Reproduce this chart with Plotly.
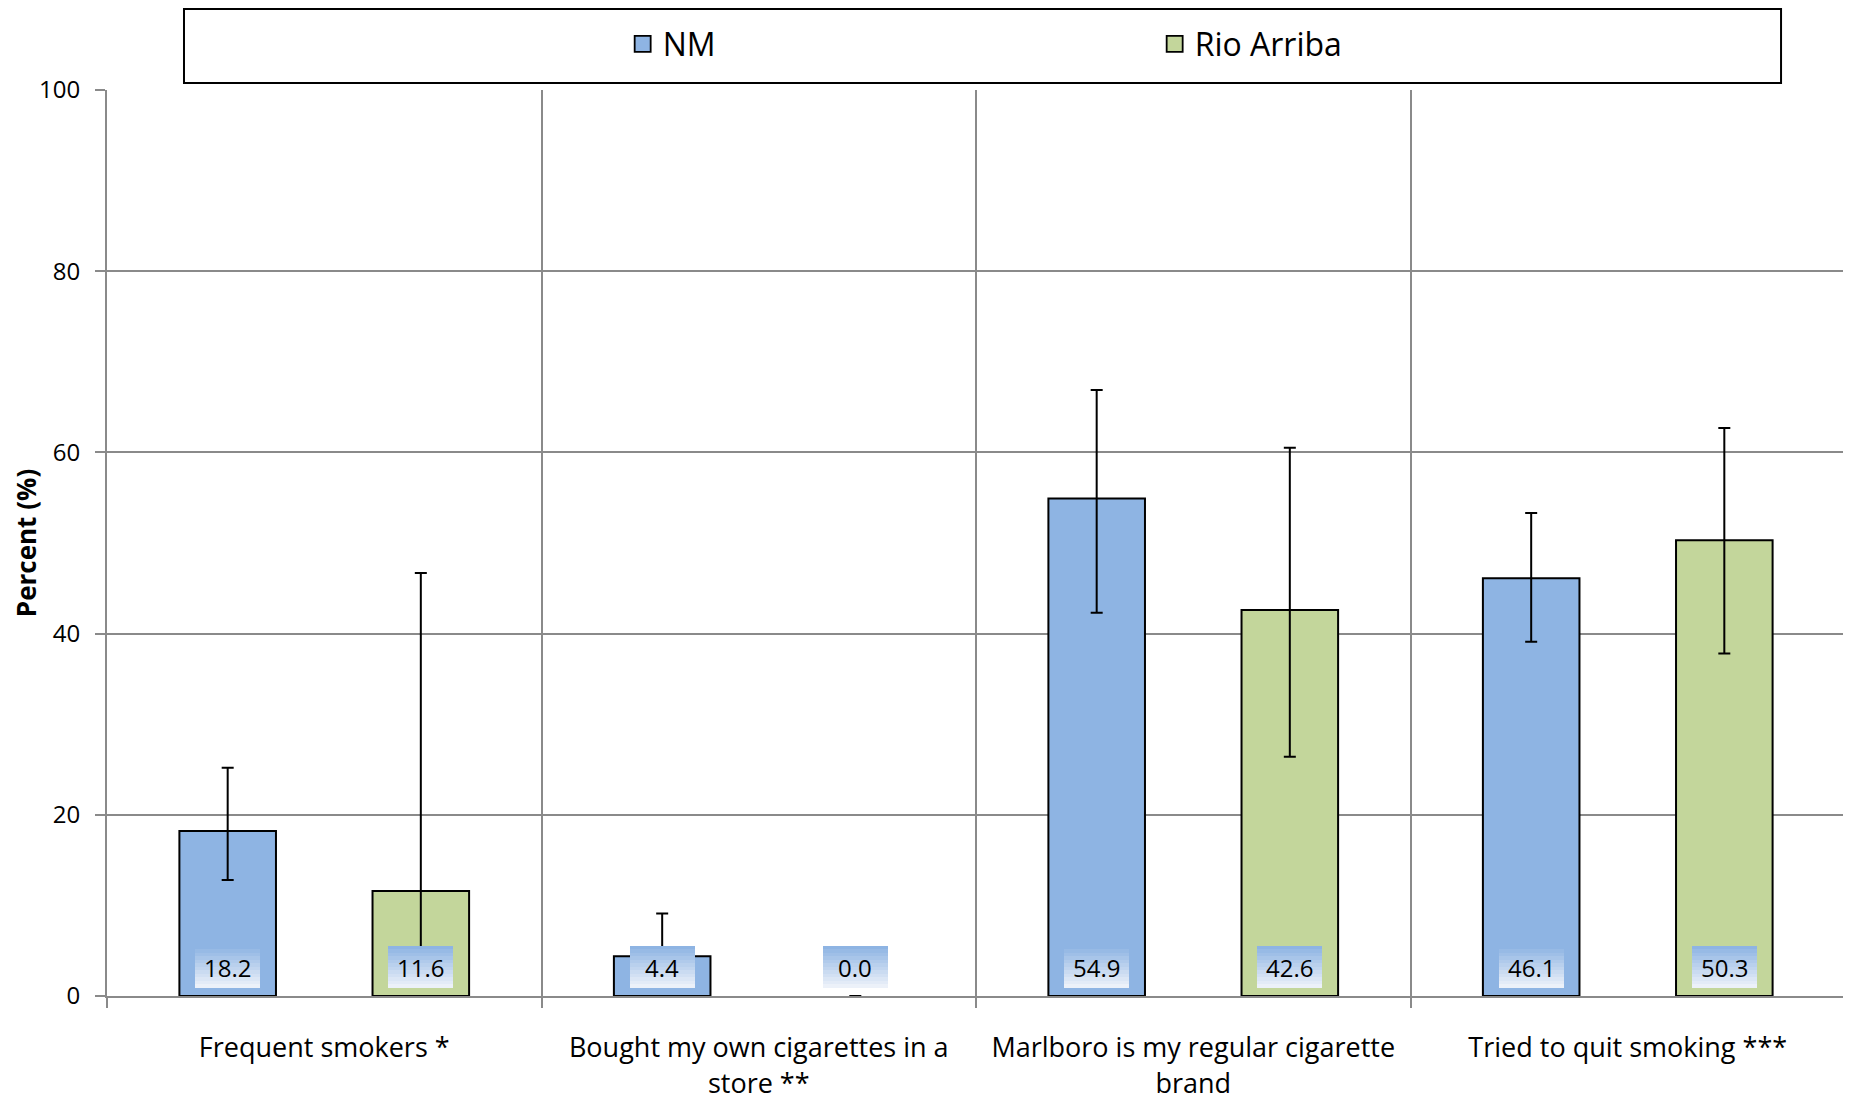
import plotly.graph_objects as go

categories = ["Frequent smokers *", "Bought my own cigarettes in a<br>store **",
              "Marlboro is my regular cigarette<br>brand", "Tried to quit smoking ***"]
series_names = ["NM", "Rio Arriba"]
nm_values = [18.2, 4.4, 54.9, 46.1]
nm_upper = [25.2, 9.1, 66.9, 53.3]
nm_lower = [12.8, 2.0, 42.3, 39.1]
ra_values = [11.6, 0.0, 42.6, 50.3]
ra_upper = [46.7, 0.0, 60.5, 62.7]
ra_lower = [2.8, 0.0, 26.4, 37.8]
y_ticks = [0, 20, 40, 60, 80, 100]

colors = ["#8EB4E3", "#C3D69B"]
FONT = "Open Sans"
BARGAP = 0.111
BARGROUPGAP = 0.5

fig = go.Figure()
series = [(nm_values, nm_upper, nm_lower), (ra_values, ra_upper, ra_lower)]
for name, color, (vals, up, lo) in zip(series_names, colors, series):
    fig.add_trace(go.Bar(
        x=categories, y=vals, name=name, showlegend=False,
        marker=dict(color=color,
                    line=dict(color="black", width=[2 if v > 0 else 0 for v in vals])),
        error_y=dict(type="data", symmetric=False,
                     array=[u - v for u, v in zip(up, vals)],
                     arrayminus=[v - l for v, l in zip(vals, lo)],
                     color="black", thickness=2, width=6),
    ))
    # legend-only marker
    fig.add_trace(go.Scatter(
        x=[None], y=[None], mode="markers", name=name,
        marker=dict(symbol="square", size=16, color=color,
                    line=dict(color="black", width=1.8)),
    ))

# data labels with vertical gradient box (stacked, bottom-anchored boxes)
slot = (1 - BARGAP) / 2
offsets = [-slot / 2, slot / 2]
n_bands = 12
box_h = 42
top_rgb = (0x8E, 0xB4, 0xE3)
bot_rgb = (0xEC, 0xF1, 0xF9)
for s, (vals, _, _) in enumerate(series):
    for i, v in enumerate(vals):
        xpos = i + offsets[s]
        for k in range(n_bands):
            t = k / (n_bands - 1)
            rgb = tuple(int(round(tp + (b - tp) * t)) for b, tp in zip(bot_rgb, top_rgb))
            h = box_h * (n_bands - k) / n_bands
            fig.add_annotation(
                x=xpos, y=0, xref="x", yref="y", text=" ", showarrow=False,
                yanchor="bottom", yshift=8, width=65, height=h,
                bgcolor="rgb(%d,%d,%d)" % rgb, borderpad=0, borderwidth=0,
                font=dict(size=1),
            )
        fig.add_annotation(
            x=xpos, y=0, xref="x", yref="y", text="%.1f" % v, showarrow=False,
            yanchor="middle", yshift=29,
            font=dict(family=FONT, size=24, color="black"),
        )

# legend frame
fig.add_shape(type="rect", xref="paper", yref="paper",
              x0=0.0443, x1=0.9632, y0=1.0077, y1=1.0895,
              line=dict(color="black", width=2), fillcolor="white", layer="below")

fig.update_layout(
    width=1843, height=1093,
    margin=dict(l=99, r=6, t=82, b=105, autoexpand=False),
    paper_bgcolor="white", plot_bgcolor="white",
    barmode="group", bargap=BARGAP, bargroupgap=BARGROUPGAP,
    font=dict(family=FONT, color="black"),
    legend=dict(orientation="h", x=0.2967, xanchor="left", y=1.0508, yanchor="middle",
                font=dict(family=FONT, size=32), entrywidth=487, entrywidthmode="pixels",
                bgcolor="rgba(0,0,0,0)", borderwidth=0),
    xaxis=dict(type="category", range=[-0.5, 3.5], tickson="boundaries",
               automargin=False,
               showgrid=True, gridcolor="#8A8A8A", gridwidth=1.8,
               ticks="outside", ticklen=10, tickcolor="#8A8A8A", tickwidth=1.8,
               showline=True, linecolor="#8A8A8A", linewidth=2,
               ticklabelstandoff=27,
               tickfont=dict(family=FONT, size=27)),
    yaxis=dict(range=[0, 100], tickvals=y_ticks, showgrid=True, automargin=False,
               gridcolor="#8A8A8A", gridwidth=1.8, zeroline=False,
               ticks="outside", ticklen=10, tickcolor="#8A8A8A", tickwidth=1.8,
               showline=True, linecolor="#8A8A8A", linewidth=2,
               ticklabelstandoff=10,
               tickfont=dict(family=FONT, size=24),
               title=dict(text="<b>Percent (%)</b>", font=dict(family=FONT, size=26),
                          standoff=10)),
)

fig.write_html("out.html")
